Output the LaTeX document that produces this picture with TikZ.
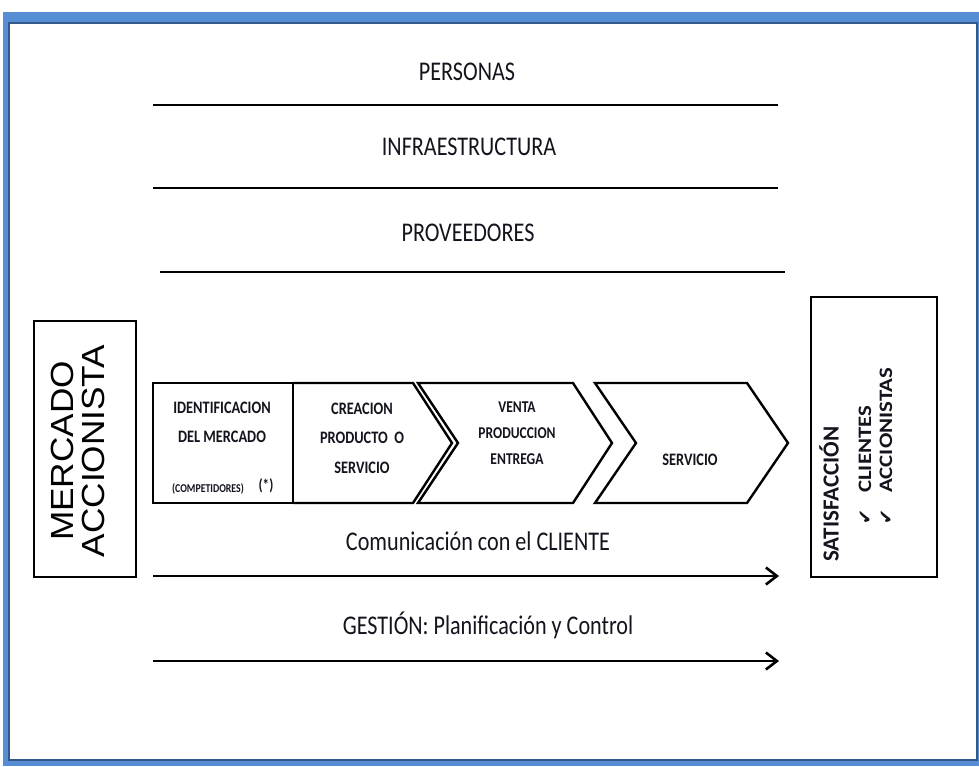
\documentclass[tikz,border=0pt]{standalone}
\usepackage{fontspec}
\setmainfont{Carlito}
\newfontfamily\condfont{Carlito}[FakeStretch=0.82]
\newfontfamily\longfont{Carlito}[FakeStretch=1.2]
\newfontfamily\arialfont{Liberation Sans}[FakeStretch=1.1]
\newfontfamily\symfont{DejaVu Sans}
\usetikzlibrary{arrows.meta,positioning}
\definecolor{frameblue}{RGB}{85,142,213}
\definecolor{frameline}{RGB}{52,88,138}
\definecolor{inktext}{RGB}{20,20,30}
\tikzset{%
	band/.style     = {line width=2.5pt},
	flow/.style     = {line width=2.6pt, -{Straight Barb[length=11pt,width=17pt,line width=2.6pt]}},
	stage/.style    = {draw, line width=2.4pt, line join=miter},
	layer/.style    = {text=inktext, font=\condfont\fontsize{27}{30}\selectfont},
	stagetext/.style= {text=inktext, font=\condfont\bfseries\fontsize{17.5}{20}\selectfont, inner sep=0pt},
	sidetext/.style = {rotate=90, anchor=west, inner sep=0pt, text=inktext, font=\longfont\bfseries\fontsize{19}{21}\selectfont},
}
\newcommand{\tick}{{\symfont\fontsize{18}{18}\selectfont ✔}}

\begin{document}
\begin{tikzpicture}[x=1pt,y=-1pt]
	\useasboundingbox (0,0) rectangle (979,766);
	% marco
	\fill[frameblue] (3,12) rectangle (979,766);
	\fill[white] (9,23) rectangle (977,760);
	\draw[frameline, line width=1.5pt] (9,23) rectangle (977,760);
	
	% capas de apoyo
	\node[layer] (personas) at (467,72) {PERSONAS};
	\node[layer] (infra) at (469,147) {INFRAESTRUCTURA};
	\node[layer] (prov) at (468,233) {PROVEEDORES};
	\draw[band] (153,105) -- (778,105);
	\draw[band] (153,188) -- (778,188);
	\draw[band] (160,272) -- (785,272);
	
	% entrada y salida
	\draw[stage] (34,321) rectangle (136,577);
	\node[rotate=90, align=center, inner sep=0pt, font=\arialfont\fontsize{32}{31}\selectfont] (mercado) at (78,451) {MERCADO\\ACCIONISTA};
	\draw[stage] (811,297) rectangle (937,577);
	\node[sidetext, font=\bfseries\fontsize{23}{24}\selectfont] (satis) at (829,562) {SATISFACCIÓN};
	\node[sidetext] (clientes) at (865,525) {\tick\hspace{17pt}CLIENTES};
	\node[sidetext] (accion) at (886,525) {\tick\hspace{17pt}ACCIONISTAS};
	
	% cadena de etapas
	\draw[stage] (153,383) rectangle (293,503);
	\draw[stage] (293,383) -- (413,383) -- (452,443) -- (413,503) -- (293,503);
	\draw[stage] (418,383) -- (573,383) -- (612,443) -- (573,503) -- (418,503) -- (458,443) -- cycle;
	\draw[stage] (595,383) -- (747,383) -- (788,443) -- (747,503) -- (595,503) -- (636,443) -- cycle;
	
	\node[stagetext] (ident) at (222,408) {IDENTIFICACION};
	\node[stagetext] (delmerc) at (222,437) {DEL MERCADO};
	\node[stagetext, font=\condfont\bfseries\fontsize{12}{13}\selectfont] (compet) at (208,489) {(COMPETIDORES)};
	\node[stagetext, font=\condfont\bfseries\fontsize{16}{17}\selectfont] (nota) at (266,486) {(*)};
	\node[stagetext, align=center, font=\condfont\bfseries\fontsize{17.5}{29.5}\selectfont] (creacion) at (362,438) {CREACION\\PRODUCTO\ \ O\\SERVICIO};
	\node[stagetext, align=center, font=\condfont\bfseries\fontsize{16.5}{26}\selectfont] (venta) at (517,433) {VENTA\\PRODUCCION\\ENTREGA};
	\node[stagetext] (servicio) at (690,460) {SERVICIO};
	
	% flujos transversales
	\node[layer] (comunic) at (478,541) {Comunicación con el CLIENTE};
	\coordinate (c1) at (153,576);
	\coordinate (c2) at (779,576);
	\draw[flow] (c1) -- (c2);
	\node[layer] (gestion) at (488,625) {GESTIÓN: Planificación y Control};
	\coordinate (g1) at (153,661);
	\coordinate (g2) at (779,661);
	\draw[flow] (g1) -- (g2);
\end{tikzpicture}
\end{document}
